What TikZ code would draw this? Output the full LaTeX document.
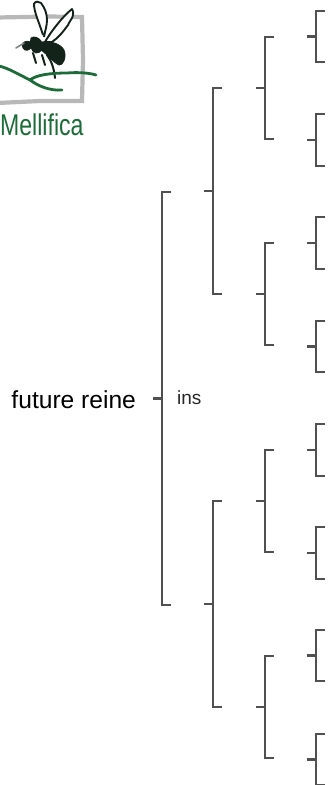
\documentclass[tikz,border=0pt]{standalone}
\usepackage{fontspec}
\setmainfont{Liberation Sans}
\definecolor{brk}{HTML}{505050}
\definecolor{leaf}{HTML}{1C6B38}
\definecolor{frame}{HTML}{B8B8B8}
\definecolor{bee}{HTML}{14231A}
\tikzset{
  brk/.style={draw=brk,line width=2.1pt},
  frameline/.style={draw=frame,line width=4.2pt,line cap=round},
  leafline/.style={draw=leaf,line width=2.8pt,line cap=round},
  wing/.style={draw=bee,line width=1.9pt,line join=round,fill=white},
  beebody/.style={fill=bee,draw=bee,line width=.8pt},
  beeleg/.style={draw=bee,line width=2pt,line cap=round},
  label/.style={inner sep=0pt,anchor=base west,text=black},
}
% #1 name, #2 spine x, #3 top y, #4 bottom y
\newcommand{\bracketat}[4]{%
  \coordinate (#1t) at (#2+9,#3);
  \coordinate (#1b) at (#2+9,#4);
  \coordinate (#1s) at (#2-9,{(#3+#4)/2});
  \coordinate (#1j) at (#2,{(#3+#4)/2});
  \draw[brk] (#1t) -- (#2,#3) -- (#2,#4) -- (#1b);
  \draw[brk] (#1s) -- (#1j);
}
\begin{document}
\begin{tikzpicture}[x=1pt,y=-1pt]
\useasboundingbox (0,0) rectangle (327,785);
% logo frame
\draw[frameline] (-3,17.5) -- (50,16.5) -- (82,17) -- (83,60) -- (82,101) -- (40,101) -- (-3,103);
% wings
\draw[wing] (43,35) .. controls (39,22) and (34,12) .. (34,4) .. controls (35,1) and (39,1) .. (41,3) .. controls (45,8) and (47,14) .. (47,20) .. controls (47,26) and (45,31) .. (44,37);
\draw[wing] (45,42) .. controls (50,33) and (62,17) .. (72,9) .. controls (74,12) and (73,16) .. (72,18) .. controls (70,21) and (69,23) .. (68,25) .. controls (63,32) and (58,38) .. (52,42) -- cycle;
% body
\fill[beebody] (31,38) .. controls (34,36) and (38,37) .. (41,41) .. controls (44,49) and (41,53) .. (36,53) .. controls (31,52) and (29,44) .. (31,38) -- cycle;
\fill[beebody] (41,42) .. controls (50,41) and (60,43) .. (64,50) .. controls (67,57) and (63,66) .. (59,65) .. controls (54,63) and (48,55) .. (41,50) -- cycle;
\fill[beebody] (23,43) .. controls (25,41) and (30,40) .. (32,44) .. controls (32,49) and (28,51) .. (25,50) .. controls (22,48) and (22,45) .. (23,43) -- cycle;
\draw[beeleg,line width=1.6pt,draw=bee!55] (24,43) -- (16,48);
\draw[beeleg] (33,53) -- (36,63);
\draw[beeleg] (42,55) -- (45,65);
\draw[beeleg] (47,55) .. controls (51,60) and (54,68) .. (55,78);
% green stems
\draw[leafline] (-1,66) .. controls (8,68) and (20,75) .. (30,80) .. controls (38,86) and (50,91) .. (62,90);
\draw[leafline] (30,80) .. controls (36,75) and (50,73) .. (67,73) .. controls (78,72) and (90,73) .. (96,75);
% logo text
\node[label,text=leaf,font=\fontsize{30}{30}\selectfont,xscale=.77,transform shape] (logotext) at (0,135) {Mellifica};
% texts
\node[label,font=\fontsize{24.6}{24.6}\selectfont] (root) at (11.3,408.5) {future reine};
\node[label,text=black!85,font=\fontsize{19}{19}\selectfont] (ins) at (177,404) {ins};
% brackets
\bracketat{a}{162}{192}{605}
\bracketat{b}{213}{88}{294}
\bracketat{c}{213}{501}{707}
\bracketat{d}{265}{37}{139}
\bracketat{e}{265}{243}{345}
\bracketat{f}{265}{450}{552}
\bracketat{g}{265}{656}{758}
\bracketat{h}{316}{11}{62}
\bracketat{i}{316}{114}{166}
\bracketat{j}{316}{217}{269}
\bracketat{k}{316}{321}{372}
\bracketat{l}{316}{424}{476}
\bracketat{m}{316}{527}{579}
\bracketat{n}{316}{630}{681}
\bracketat{o}{316}{734}{785}
\end{tikzpicture}
\end{document}
